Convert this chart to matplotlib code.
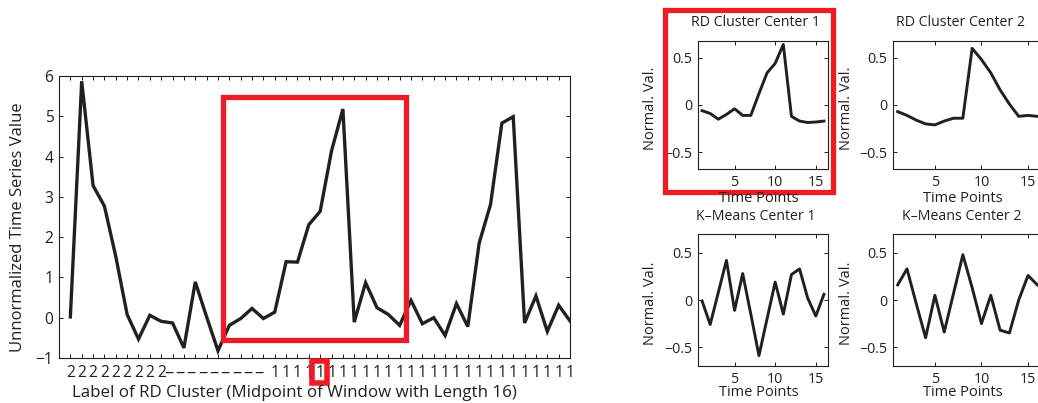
import matplotlib
matplotlib.use("Agg")
import matplotlib.pyplot as plt
from matplotlib.patches import Rectangle
from matplotlib.transforms import ScaledTranslation

plt.rcParams['font.family'] = ['Open Sans', 'DejaVu Sans']

# ---- data -------------------------------------------------------------
series = [0.02, 5.87, 3.28, 2.77, 1.52, 0.08, -0.53, 0.06, -0.09, -0.13,
          -0.75, 0.89, 0.02, -0.82, -0.19, -0.02, 0.23, -0.02, 0.14, 1.39,
          1.38, 2.31, 2.64, 4.14, 5.18, -0.11, 0.87, 0.25, 0.08, -0.19,
          0.43, -0.15, 0.00, -0.44, 0.35, -0.22, 1.85, 2.81, 4.83, 4.99,
          -0.13, 0.54, -0.34, 0.31, -0.08]
cluster_labels = ['2'] * 9 + ['\u2013'] * 9 + ['1'] * 27

rd_center_1 = [-0.06, -0.09, -0.15, -0.10, -0.04, -0.11, -0.11, 0.12,
               0.34, 0.44, 0.64, -0.12, -0.17, -0.185, -0.18, -0.17]
rd_center_2 = [-0.07, -0.11, -0.16, -0.20, -0.21, -0.17, -0.14, -0.14,
               0.60, 0.48, 0.34, 0.16, 0.01, -0.12, -0.11, -0.12]
km_center_1 = [-0.01, -0.26, 0.08, 0.42, -0.11, 0.28, -0.15, -0.59,
               -0.20, 0.19, -0.15, 0.27, 0.33, 0.02, -0.17, 0.06]
km_center_2 = [0.16, 0.33, -0.04, -0.40, 0.05, -0.34, 0.07, 0.48,
               0.13, -0.25, 0.05, -0.32, -0.35, 0.00, 0.26, 0.16]

center_titles = ['RD Cluster Center 1', 'RD Cluster Center 2',
                 'K\u2013Means Center 1', 'K\u2013Means Center 2']

window_start, window_len = 15, 16
# ----------------------------------------------------------------------

W, H = 1038, 403
fig = plt.figure(figsize=(W / 100, H / 100), dpi=100)

INK = '#231f20'
RED = '#ed1c24'


def px_axes(left, top, right, bottom):
    return fig.add_axes([left / W, 1 - bottom / H, (right - left) / W, (bottom - top) / H])


def style_axes(ax, size):
    for s in ax.spines.values():
        s.set_color(INK)
        s.set_linewidth(0.8)
    ax.tick_params(direction='in', length=3, width=0.7, colors=INK,
                   labelsize=size, top=True, right=True, pad=4)


# ---- main series ------------------------------------------------------
ax = px_axes(59, 76, 570, 358)
x = list(range(1, len(series) + 1))
ax.plot(x, series, color=INK, lw=2.4, solid_joinstyle='miter')
ax.set_xlim(0, len(series))
ax.set_ylim(-1, 6)
ax.set_yticks(range(-1, 7))
ax.set_xticks(x)
ax.set_xticklabels(cluster_labels)
style_axes(ax, 11.2)
ax.tick_params(axis='x', pad=5)
dash_shift = ScaledTranslation(-3 / 72, 0.6 / 72, fig.dpi_scale_trans)
for tick in ax.xaxis.get_major_ticks():
    if tick.label1.get_text() == '\u2013':
        tick.label1.set_fontsize(13.2)
        tick.label1.set_transform(tick.label1.get_transform() + dash_shift)

# analysed window
ax.add_patch(Rectangle((window_start - 0.55, -0.565), window_len + 0.1, 6.045,
                       fill=False, ec=RED, lw=3.8, zorder=5))
# midpoint label of the window
fig.patches.append(Rectangle((312 / W, 1 - 383 / H), 15 / W, 22 / H,
                             fill=False, ec=RED, lw=4.0, transform=fig.transFigure))

fig.text(18.5 / W, 1 - 227 / H, 'Unnormalized Time Series Value', rotation=90,
         ha='center', va='center', fontsize=12, color=INK)
fig.text(294 / W, 1 - 393 / H, 'Label of RD Cluster (Midpoint of Window with Length 16)',
         ha='center', va='center', fontsize=12.2, color=INK)

# ---- cluster centres --------------------------------------------------
panels = [
    (rd_center_1, (698, 40.7, 828, 169.3), (-0.68, 0.68)),
    (rd_center_2, (893, 40.7, 1042, 169.3), (-0.68, 0.68)),
    (km_center_1, (698, 234, 828, 366), (-0.70, 0.70)),
    (km_center_2, (893, 234, 1042, 366), (-0.70, 0.70)),
]
title_pos = [(755.5, 23), (960, 23), (756, 216.5), (962, 216.5)]
xlabel_pos = [(759, 198), (963, 198), (759, 393), (963, 393)]
ylabel_x = [650, 846, 650, 846]

for (vals, box, ylim), title, tpos, xpos, ylx in zip(panels, center_titles,
                                                   title_pos, xlabel_pos, ylabel_x):
    a = px_axes(*box)
    t = list(range(1, len(vals) + 1))
    a.plot(t, vals, color=INK, lw=2.1)
    a.set_xlim(0.5, 16.5)
    a.set_ylim(*ylim)
    a.set_xticks([5, 10, 15])
    a.set_yticks([-0.5, 0, 0.5])
    a.set_yticklabels(['\u22120.5', '0', '0.5'])
    style_axes(a, 10.3)
    cy = (box[1] + box[3]) / 2
    fig.text(tpos[0] / W, 1 - tpos[1] / H, title, ha='center', va='center',
             fontsize=10.2, color=INK)
    fig.text(xpos[0] / W, 1 - xpos[1] / H, 'Time Points', ha='center', va='center',
             fontsize=10.5, color=INK)
    fig.text(ylx / W, 1 - (cy + 3) / H, 'Normal. Val.', rotation=90, ha='center',
             va='center', fontsize=10.5, color=INK)

# highlighted centre
fig.patches.append(Rectangle((665.3 / W, 1 - 191.7 / H), (833 - 665.3) / W, (191.7 - 10.2) / H,
                             fill=False, ec=RED, lw=3.8, transform=fig.transFigure))

fig.savefig('out.png', dpi=100)
